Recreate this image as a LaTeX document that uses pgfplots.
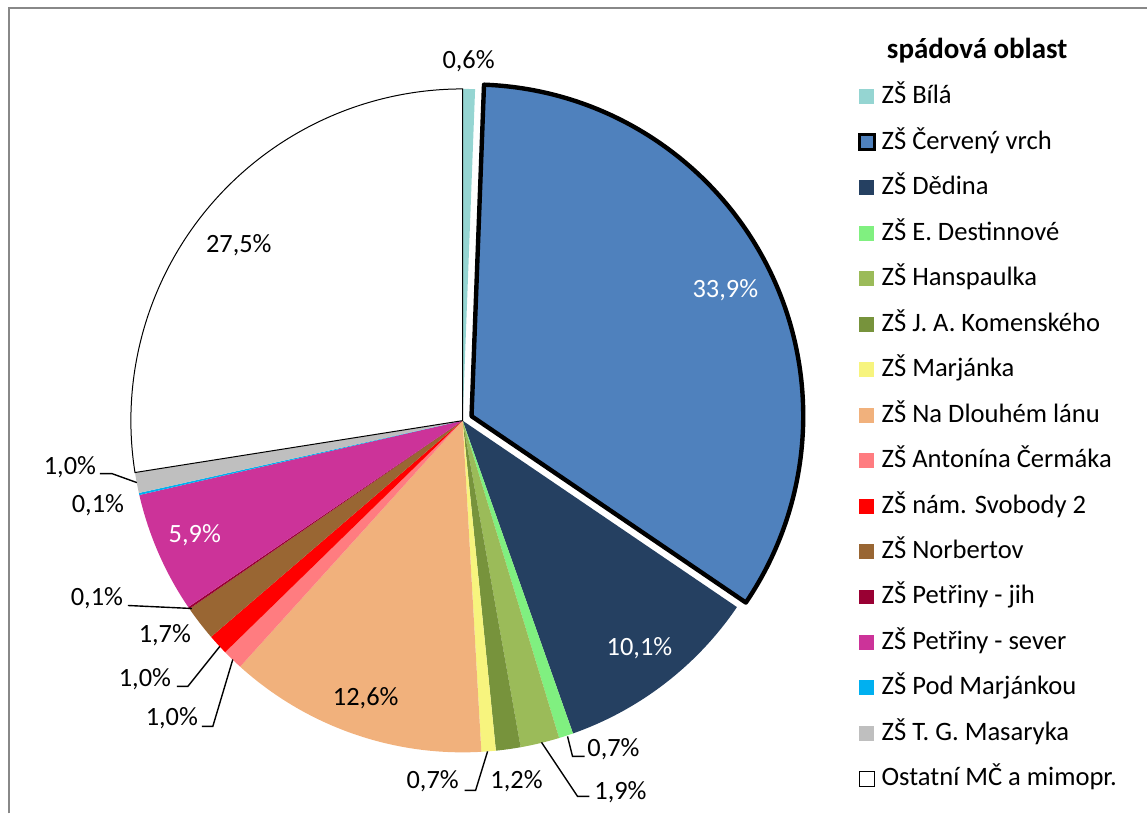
\documentclass[border=0pt]{standalone}
\usepackage{fontspec}
\setmainfont{Carlito}
\usepackage{pgfplots}
\usepackage{pgfplotstable}
\pgfplotsset{compat=1.18}

\definecolor{cBila}{HTML}{95D5D2}
\definecolor{cCerveny}{HTML}{4F81BD}
\definecolor{cDedina}{HTML}{254061}
\definecolor{cDestinnove}{HTML}{80F080}
\definecolor{cHanspaulka}{HTML}{9BBB59}
\definecolor{cKomenskeho}{HTML}{77933C}
\definecolor{cMarjanka}{HTML}{F7F47E}
\definecolor{cDlouhem}{HTML}{F1B17C}
\definecolor{cCermaka}{HTML}{FF7C80}
\definecolor{cSvobody}{HTML}{FF0000}
\definecolor{cNorbertov}{HTML}{996633}
\definecolor{cJih}{HTML}{990033}
\definecolor{cSever}{HTML}{CC3399}
\definecolor{cPodMarj}{HTML}{00B0F0}
\definecolor{cMasaryka}{HTML}{BFBFBF}
\definecolor{frame}{HTML}{888888}

\newcommand\labfont{\fontsize{13.2}{15}\selectfont}
\newcommand\legfont{\fontsize{13.3}{15}\selectfont}

% share in %, slice colour, label position (px, baseline), label colour
\pgfplotstableread[col sep=comma]{
name,pct,col,lx,ly,lc
ZŠ Bílá,0.6,cBila,469,69,black
ZŠ Červený vrch,33.9,cCerveny,726,298,white
ZŠ Dědina,10.1,cDedina,640,656,white
ZŠ E. Destinnové,0.7,cDestinnove,614,757,black
ZŠ Hanspaulka,1.9,cHanspaulka,621,800,black
ZŠ J. A. Komenského,1.2,cKomenskeho,517,789,black
ZŠ Marjánka,0.7,cMarjanka,433,789,black
ZŠ Na Dlouhém lánu,12.6,cDlouhem,366,706,black
ZŠ Antonína Čermáka,1.0,cCermaka,172,726,black
ZŠ nám. Svobody 2,1.0,cSvobody,145,687,black
ZŠ Norbertov,1.7,cNorbertov,165,643,black
ZŠ Petřiny - jih,0.1,cJih,97,606,black
ZŠ Petřiny - sever,5.9,cSever,195,543,white
ZŠ Pod Marjánkou,0.1,cPodMarj,98,513,black
ZŠ T. G. Masaryka,1.0,cMasaryka,70,475,black
Ostatní MČ a mimopr.,27.5,white,239,253,black
}\piedata

\begin{document}
\begin{tikzpicture}
\begin{axis}[
    scale only axis,
    width=574pt, height=407pt,
    xmin=0, xmax=1148, ymin=0, ymax=814,
    y dir=reverse,
    hide axis, clip=false,
]
\path (axis cs:0,0) rectangle (axis cs:1148,814);
\draw[frame, line width=1pt] (axis cs:9,814) -- (axis cs:9,8) -- (axis cs:1148,8);

\def\a{90}
\pgfplotsforeachungrouped \i in {0,...,15}{%
  \pgfplotstablegetelem{\i}{name}\of\piedata \let\nm=\pgfplotsretval
  \pgfplotstablegetelem{\i}{pct}\of\piedata \let\p=\pgfplotsretval
  \pgfplotstablegetelem{\i}{col}\of\piedata \let\c=\pgfplotsretval
  \pgfplotstablegetelem{\i}{lx}\of\piedata \let\lx=\pgfplotsretval
  \pgfplotstablegetelem{\i}{ly}\of\piedata \let\ly=\pgfplotsretval
  \pgfplotstablegetelem{\i}{lc}\of\piedata \let\lc=\pgfplotsretval
  \pgfmathsetmacro\b{\a-3.6*\p}%
  \pgfmathsetmacro\m{(\a+\b)/2}%
  \def\sopt{}\def\mopt{}%
  \def\ctr{(axis cs:463,421)}%
  \ifnum\i=1
    \def\sopt{draw=black,line width=2.2pt,line join=round}%
    \def\mopt{draw=black,line width=1.5pt}%
    \edef\ctr{([shift={(\m:5pt)}]axis cs:463,421)}%
  \fi
  \ifnum\i=15
    \def\sopt{draw=black,line width=0.5pt}%
    \def\mopt{draw=black,line width=0.5pt}%
  \fi
  \pgfmathsetmacro\gy{97+45.5*\i}%
  \pgfmathsetmacro\gya{\gy-7.5}%
  \pgfmathsetmacro\gyb{\gy+7.5}%
  \pgfmathsetmacro\gyt{\gy+7}%
  \edef\tmp{%
    \noexpand\fill[fill=\c,\sopt] \ctr -- ++(\a:166pt)
      arc[start angle=\a, end angle=\b, radius=166pt] -- cycle;
    \noexpand\node[anchor=base, inner sep=0pt, text=\lc, font=\noexpand\labfont]
      at (axis cs:\lx,\ly)
      {\noexpand\pgfmathprintnumber[assume math mode=true,use comma,fixed,fixed zerofill,precision=1]{\p}\noexpand\%};
    \noexpand\fill[fill=\c,\mopt] (axis cs:860,\gya) rectangle (axis cs:875,\gyb);
    \noexpand\node[anchor=base west, inner sep=0pt, font=\noexpand\legfont]
      at (axis cs:882,\gyt) {\nm};
  }%
  \tmp
  \global\let\a=\b
}

\node[anchor=base, inner sep=0pt, font=\bfseries\fontsize{14.5}{16}\selectfont]
  at (axis cs:978,59) {spádová oblast};

% leader lines
\draw[black, line width=0.7pt] (axis cs:568,737) -- (axis cs:573,757) -- (axis cs:585,757);
\draw[black, line width=0.7pt] (axis cs:542,743) -- (axis cs:578,797) -- (axis cs:590,797);
\draw[black, line width=0.7pt] (axis cs:488,752) -- (axis cs:476,791) -- (axis cs:465,791);
\draw[black, line width=0.7pt] (axis cs:233,660) -- (axis cs:213,727) -- (axis cs:202,727);
\draw[black, line width=0.7pt] (axis cs:220,647) -- (axis cs:188,687) -- (axis cs:177,687);
\draw[black, line width=0.7pt] (axis cs:192,609) -- (axis cs:128,606);
\draw[black, line width=0.7pt] (axis cs:137,483) -- (axis cs:112,474) -- (axis cs:100,474);
\end{axis}
\end{tikzpicture}
\end{document}
